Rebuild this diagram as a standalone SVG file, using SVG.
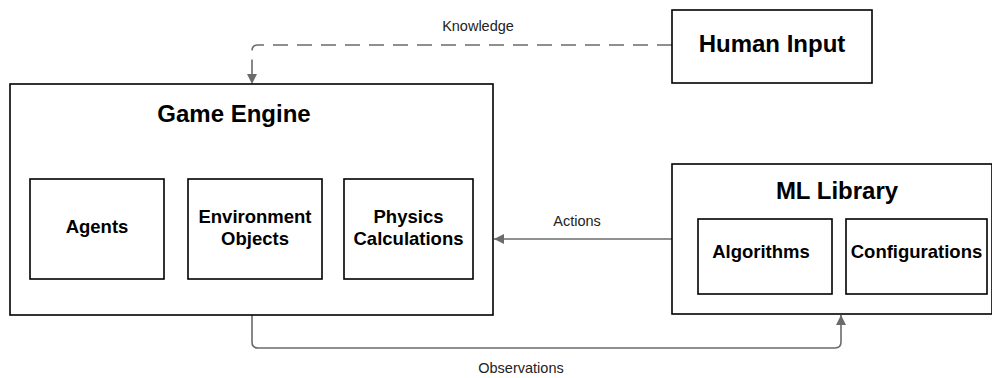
<svg xmlns="http://www.w3.org/2000/svg" width="992" height="378" viewBox="0 0 992 378">
  <style>
    .box { fill: #ffffff; stroke: #000000; stroke-width: 1.6; }
    .title { font-family: "Liberation Sans", Arial, sans-serif; font-weight: bold; font-size: 24px; fill: #000000; text-anchor: middle; }
    .label { font-family: "Liberation Sans", Arial, sans-serif; font-weight: bold; font-size: 18.5px; fill: #000000; text-anchor: middle; }
    .edge { fill: none; stroke: #6b6b6b; stroke-width: 1.6; }
    .edge-label { font-family: "Liberation Sans", Arial, sans-serif; font-size: 14.5px; fill: #222222; text-anchor: middle; }
  </style>
  <defs>
    <marker id="arrow" viewBox="0 0 10 10" refX="10" refY="5" markerWidth="10" markerHeight="10" markerUnits="userSpaceOnUse" orient="auto">
      <path d="M0,0 L10,5 L0,10 Z" fill="#6b6b6b"/>
    </marker>
  </defs>
  <rect width="992" height="378" fill="#ffffff"/>

  <g id="connectors">
    <!-- Knowledge: Human Input -> Game Engine -->
    <path class="edge" d="M672,45 L258,45 Q252,45 252,51 L252,84" stroke-dasharray="15,9" marker-end="url(#arrow)"/>
    <text class="edge-label" x="478" y="31">Knowledge</text>
    <!-- Actions: ML Library -> Game Engine -->
    <path class="edge" d="M672,239 L494,239" marker-end="url(#arrow)"/>
    <text class="edge-label" x="577" y="226">Actions</text>
    <!-- Observations: Game Engine -> ML Library -->
    <path class="edge" d="M252,315 L252,342 Q252,348 258,348 L835,348 Q841,348 841,342 L841,315" marker-end="url(#arrow)"/>
    <text class="edge-label" x="521" y="373">Observations</text>
  </g>

  <g id="human-input">
    <rect class="box" x="672" y="10" width="200" height="73"/>
    <text class="title" x="772" y="52">Human Input</text>
  </g>

  <g id="game-engine">
    <rect class="box" x="10" y="84" width="483" height="231"/>
    <text class="title" x="234" y="122">Game Engine</text>
  </g>
  <g id="agents">
    <rect class="box" x="30" y="179" width="134" height="100"/>
    <text class="label" x="97" y="233">Agents</text>
  </g>
  <g id="environment-objects">
    <rect class="box" x="188" y="179" width="134" height="100"/>
    <text class="label" x="255" y="223">Environment</text>
    <text class="label" x="255" y="245">Objects</text>
  </g>
  <g id="physics-calculations">
    <rect class="box" x="344" y="179" width="129" height="100"/>
    <text class="label" x="408.5" y="223">Physics</text>
    <text class="label" x="408.5" y="245">Calculations</text>
  </g>

  <g id="ml-library">
    <rect class="box" x="672" y="164" width="320" height="150"/>
    <text class="title" x="837" y="199">ML Library</text>
  </g>
  <g id="algorithms">
    <rect class="box" x="698" y="219" width="134" height="75"/>
    <text class="label" x="761" y="258">Algorithms</text>
  </g>
  <g id="configurations">
    <rect class="box" x="846" y="219" width="141" height="75"/>
    <text class="label" x="916.5" y="258">Configurations</text>
  </g>
</svg>
